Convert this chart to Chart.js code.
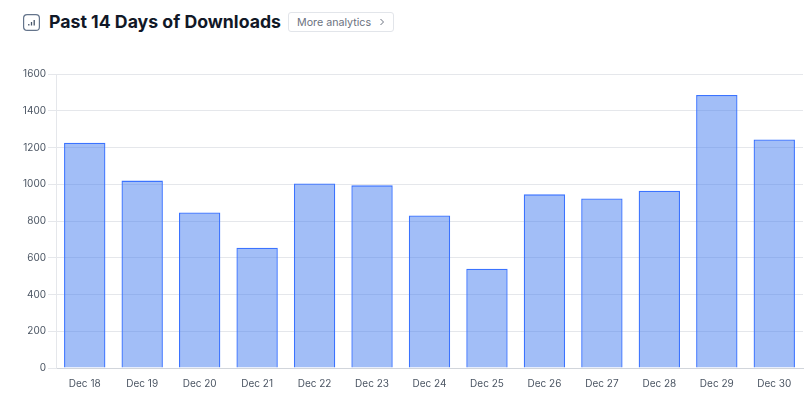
<!DOCTYPE html>
<html>
<head>
<meta charset="utf-8">
<title>Past 14 Days of Downloads</title>
<script src="https://cdn.jsdelivr.net/npm/chart.js@4"></script>
<style>
  html, body { margin: 0; padding: 0; background: #fff; overflow: hidden; }
  body { width: 805px; height: 401px; position: relative; font-family: Inter, sans-serif; }
  .header { position: absolute; left: 23px; top: 10px; height: 24px; display: flex; align-items: center; }
  .header svg { display: block; }
  .header h1 { margin: 0 0 0 9px; font-size: 17.7px; line-height: 24px; font-weight: 700; color: #111827; white-space: nowrap; }
  .more { margin-left: 7px; height: 20px; width: 106px; box-sizing: border-box; border: 1px solid #e2e5ea; border-radius: 3px; font-size: 10.7px; color: #6b7280; display: flex; align-items: center; padding-left: 8px; white-space: nowrap; }
  .more svg { margin-left: 8px; }
  .chart-wrap { position: absolute; left: 0; top: 60px; width: 805px; height: 341px; }
</style>
</head>
<body>
<div class="header">
  <svg width="17" height="17" viewBox="0 0 17 17" fill="none">
    <rect x="0.6" y="0.6" width="15.8" height="15.8" rx="3.5" stroke="#64748b" stroke-width="1.2"/>
    <path d="M5.8 11.5v-1.5M8.5 11.5V8M11.2 11.5V6" stroke="#475569" stroke-width="1.3"/>
  </svg>
  <h1>Past 14 Days of Downloads</h1>
  <div class="more">More analytics
    <svg width="6" height="8" viewBox="0 0 6 8" fill="none"><path d="M1.5 1l3 3-3 3" stroke="#6b7280" stroke-width="1"/></svg>
  </div>
</div>
<div class="chart-wrap"><canvas id="downloadsChart"></canvas></div>
<script>
const days = ["Dec 18", "Dec 19", "Dec 20", "Dec 21", "Dec 22", "Dec 23", "Dec 24", "Dec 25", "Dec 26", "Dec 27", "Dec 28", "Dec 29", "Dec 30"];
const downloads = [1226, 1020, 846, 655, 1004, 994, 830, 540, 945, 923, 965, 1486, 1244];

new Chart(document.getElementById("downloadsChart"), {
  type: "bar",
  data: {
    labels: days,
    datasets: [{
      label: "Downloads",
      data: downloads,
      backgroundColor: "rgba(70, 125, 240, 0.5)",
      borderColor: "rgb(59, 115, 255)",
      borderWidth: 1.3,
    }],
  },
  options: {
    responsive: true,
    maintainAspectRatio: false,
    animation: false,
    layout: { padding: { top: 14, right: 2, bottom: 9, left: 0 } },
    plugins: { legend: { display: false }, tooltip: { enabled: false } },
    scales: {
      x: {
        grid: { display: false, color: "#e5e7eb" },
        border: { color: "#d1d5db" },
        ticks: { color: "#4b5563", font: { family: "Inter", size: 10 }, maxRotation: 0, padding: 2 },
      },
      y: {
        beginAtZero: true,
        min: 0,
        max: 1600,
        afterFit: (axis) => { axis.width = 56; },
        grid: { color: "#e5e7eb", tickLength: 8 },
        border: { color: "#e5e7eb" },
        ticks: { stepSize: 200, color: "#4b5563", font: { family: "Inter", size: 10 }, padding: 2, callback: (v) => String(v) },
      },
    },
  },
});
</script>
</body>
</html>
